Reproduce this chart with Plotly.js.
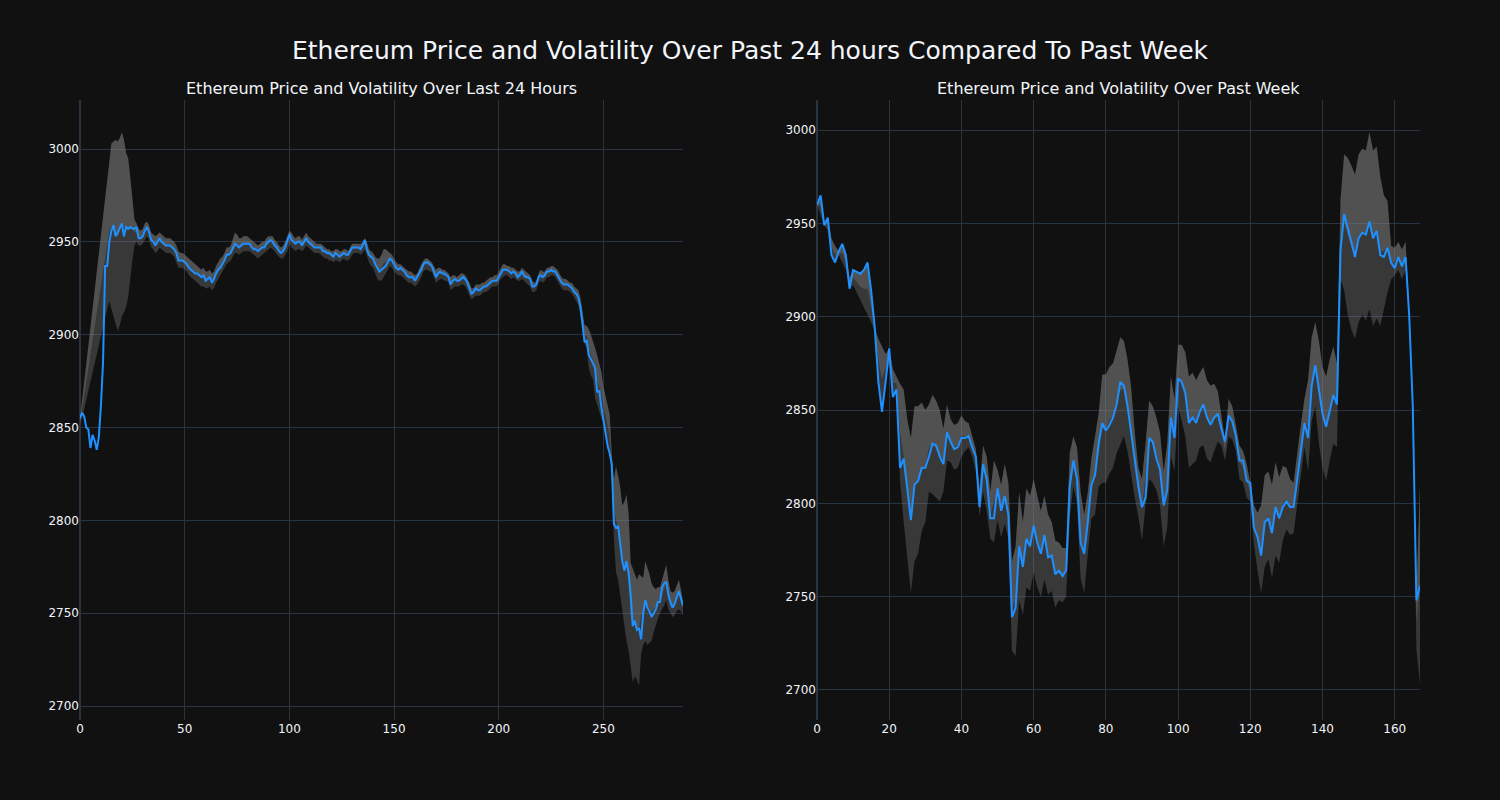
<!DOCTYPE html>
<html>
<head>
<meta charset="utf-8">
<script src="https://cdn.plot.ly/plotly-3.0.1.min.js"></script>
<style>html,body{margin:0;padding:0;background:#111111;}#chart{width:1500px;height:800px;}</style>
</head>
<body>
<div id="chart"></div>
<script>
// ---------- Last 24 hours (5-minute steps) ----------
const dayPrice = [
2855,2858,2856,2850,2849,2839,2846,2843,2838,2845,
2862,2885,2937,2937,2950,2956,2959,2953,2955,2958,
2960,2953,2958,2957,2958,2957,2957,2958,2952,2952,
2953,2956,2958,2955,2951,2950,2948,2950,2952,2950,
2949,2948,2948,2948,2947,2946,2944,2940,2940,2940,
2939,2938,2936,2935,2934,2933,2933,2932,2931,2932,
2929,2930,2931,2928,2930,2933,2935,2936,2938,2940,
2943,2943,2944,2947,2949,2948,2947,2948,2949,2949,
2949,2949,2947,2946,2946,2945,2946,2947,2947,2949,
2950,2951,2950,2948,2947,2945,2944,2945,2947,2950,
2954,2951,2950,2949,2950,2950,2948,2950,2952,2950,
2949,2948,2947,2947,2947,2947,2945,2945,2944,2944,
2943,2942,2944,2943,2942,2943,2944,2943,2943,2945,
2947,2947,2947,2947,2946,2948,2951,2946,2943,2942,
2941,2938,2936,2934,2935,2936,2937,2939,2941,2940,
2938,2936,2935,2936,2935,2934,2932,2931,2931,2931,
2929,2931,2933,2935,2938,2939,2939,2938,2937,2934,
2931,2933,2934,2933,2933,2932,2931,2927,2929,2930,
2929,2929,2930,2931,2930,2928,2925,2922,2923,2925,
2924,2924,2925,2926,2926,2927,2928,2929,2929,2929,
2931,2933,2935,2935,2935,2934,2933,2934,2933,2931,
2932,2934,2932,2931,2931,2930,2926,2926,2927,2931,
2932,2931,2932,2934,2934,2935,2934,2934,2932,2930,
2928,2927,2927,2927,2926,2925,2923,2922,2920,2915,
2906,2896,2897,2889,2887,2884,2882,2869,2870,2861,
2854,2845,2840,2836,2830,2798,2796,2797,2786,2778,
2773,2778,2772,2760,2743,2746,2741,2742,2736,2750,
2757,2753,2751,2748,2750,2752,2756,2756,2764,2766,
2767,2760,2756,2753,2755,2758,2762,2758,2754
];
const dayUpper = [
2855,2864,2874,2884,2894,2904,2914,2924,2934,2944,
2954,2964,2974,2984,2994,3003,3004,3005,3004,3006,
3009,3005,2998,2995,2985,2975,2962,2960,2957,2956,
2957,2960,2961,2959,2955,2954,2953,2954,2955,2954,
2953,2952,2952,2952,2951,2950,2948,2945,2944,2944,
2943,2942,2941,2940,2939,2938,2937,2936,2935,2936,
2934,2934,2935,2933,2934,2937,2939,2941,2942,2944,
2947,2947,2948,2952,2955,2954,2952,2952,2953,2953,
2953,2952,2951,2950,2949,2948,2949,2950,2950,2952,
2953,2953,2953,2951,2950,2948,2947,2948,2950,2953,
2956,2955,2953,2952,2953,2953,2951,2953,2955,2953,
2952,2951,2950,2949,2949,2949,2948,2947,2946,2946,
2945,2945,2946,2946,2945,2945,2946,2946,2945,2947,
2949,2949,2949,2949,2949,2950,2952,2950,2946,2945,
2944,2942,2941,2941,2943,2946,2946,2945,2944,2943,
2941,2939,2938,2938,2937,2936,2935,2934,2934,2933,
2932,2933,2936,2938,2940,2941,2941,2940,2939,2937,
2935,2936,2936,2935,2935,2934,2933,2931,2932,2932,
2931,2932,2933,2933,2932,2930,2928,2925,2925,2927,
2927,2927,2928,2928,2929,2930,2931,2931,2932,2932,
2934,2936,2938,2938,2937,2937,2936,2936,2935,2934,
2934,2936,2935,2934,2933,2932,2929,2928,2929,2933,
2935,2934,2934,2936,2936,2937,2937,2936,2935,2933,
2931,2930,2930,2929,2928,2928,2926,2925,2924,2920,
2912,2905,2905,2903,2900,2897,2893,2889,2885,2880,
2872,2866,2862,2857,2835,2822,2829,2824,2818,2808,
2810,2814,2804,2777,2774,2772,2768,2771,2770,2769,
2778,2775,2771,2766,2764,2763,2764,2764,2768,2773,
2776,2768,2762,2761,2762,2765,2768,2763,2756
];
const dayLower = [
2852,2855,2860,2865,2870,2875,2880,2885,2890,2895,
2900,2905,2910,2914,2918,2914,2911,2906,2902,2905,
2910,2912,2915,2920,2932,2940,2948,2950,2948,2948,
2949,2951,2953,2951,2947,2946,2944,2945,2947,2946,
2945,2944,2944,2944,2943,2942,2939,2936,2936,2936,
2935,2934,2932,2931,2930,2929,2928,2927,2926,2926,
2925,2925,2926,2924,2925,2928,2930,2932,2934,2936,
2938,2939,2940,2942,2944,2944,2943,2944,2945,2945,
2945,2945,2944,2943,2942,2941,2942,2943,2944,2945,
2946,2947,2946,2945,2943,2942,2941,2941,2943,2945,
2949,2947,2946,2945,2946,2946,2945,2946,2948,2947,
2946,2945,2944,2944,2944,2943,2942,2941,2941,2940,
2940,2939,2940,2940,2939,2940,2941,2940,2940,2941,
2943,2944,2944,2944,2943,2944,2946,2942,2939,2937,
2936,2933,2930,2929,2929,2931,2933,2935,2937,2936,
2934,2933,2932,2932,2931,2930,2929,2928,2928,2927,
2926,2927,2929,2931,2934,2935,2935,2934,2934,2931,
2928,2929,2930,2930,2929,2929,2928,2924,2925,2926,
2926,2926,2927,2927,2926,2924,2921,2919,2920,2921,
2921,2921,2922,2923,2923,2924,2925,2926,2926,2926,
2928,2930,2931,2932,2932,2931,2930,2931,2930,2929,
2929,2930,2929,2928,2927,2926,2923,2923,2924,2928,
2929,2928,2929,2931,2931,2932,2932,2931,2929,2927,
2925,2924,2924,2924,2923,2922,2920,2918,2916,2910,
2902,2895,2893,2882,2878,2876,2866,2862,2858,2855,
2852,2845,2840,2835,2820,2790,2772,2768,2760,2750,
2742,2735,2730,2720,2713,2716,2714,2711,2728,2733,
2735,2733,2734,2735,2740,2744,2747,2750,2752,2754,
2757,2752,2750,2748,2749,2751,2752,2751,2749
];

// ---------- Past week (hourly steps) ----------
const weekPrice = [
2960,2965,2949,2953,2933,2929,2935,2939,2933,2915,
2925,2924,2923,2925,2929,2914,2894,2865,2849,2865,
2883,2857,2861,2819,2824,2808,2791,2810,2812,2819,
2819,2825,2832,2831,2825,2821,2838,2833,2829,2830,
2835,2835,2836,2830,2825,2798,2821,2813,2792,2792,
2808,2796,2804,2794,2739,2744,2777,2766,2781,2777,
2788,2779,2773,2783,2771,2772,2762,2764,2761,2764,
2809,2823,2813,2779,2773,2790,2810,2815,2832,2843,
2839,2842,2846,2853,2865,2863,2852,2838,2822,2809,
2798,2803,2835,2833,2824,2818,2799,2807,2846,2835,
2867,2865,2859,2843,2846,2843,2849,2853,2846,2842,
2846,2848,2840,2833,2847,2844,2836,2823,2823,2812,
2811,2787,2782,2772,2790,2792,2784,2798,2792,2798,
2801,2798,2798,2813,2828,2843,2835,2863,2874,2860,
2848,2841,2849,2858,2853,2936,2955,2948,2940,2932,
2942,2945,2944,2951,2942,2946,2933,2932,2937,2929,
2926,2932,2927,2932,2901,2852,2748,2756
];
const weekUpper = [
2960,2965,2950,2953,2942,2938,2935,2939,2933,2921,
2925,2924,2923,2925,2929,2914,2894,2888,2884,2880,
2883,2872,2868,2864,2861,2845,2835,2852,2852,2854,
2850,2853,2858,2855,2850,2840,2853,2845,2842,2843,
2847,2844,2843,2836,2829,2808,2831,2825,2806,2823,
2818,2810,2821,2811,2769,2777,2806,2790,2808,2804,
2813,2804,2796,2804,2794,2790,2780,2779,2776,2776,
2827,2836,2830,2806,2794,2806,2824,2836,2848,2869,
2869,2873,2875,2882,2889,2887,2877,2862,2838,2819,
2813,2832,2855,2852,2846,2838,2817,2832,2868,2856,
2885,2885,2881,2868,2870,2866,2870,2873,2866,2863,
2864,2860,2846,2834,2856,2852,2842,2831,2828,2821,
2811,2799,2795,2799,2815,2817,2810,2822,2814,2820,
2819,2813,2811,2828,2842,2856,2866,2889,2897,2887,
2873,2868,2877,2884,2875,2963,2987,2985,2981,2976,
2987,2990,2989,2999,2989,2991,2975,2965,2962,2938,
2937,2940,2936,2940,2905,2856,2752,2810
];
const weekLower = [
2960,2954,2949,2946,2933,2929,2933,2929,2925,2915,
2917,2913,2909,2905,2901,2897,2892,2865,2849,2865,
2876,2857,2861,2812,2790,2769,2752,2769,2773,2785,
2790,2806,2805,2803,2801,2806,2823,2822,2818,2819,
2825,2828,2830,2825,2817,2793,2806,2796,2781,2779,
2791,2782,2789,2781,2721,2718,2748,2740,2755,2753,
2763,2755,2750,2759,2751,2753,2744,2748,2747,2750,
2792,2809,2800,2760,2752,2773,2792,2794,2809,2811,
2811,2816,2819,2827,2832,2836,2828,2815,2803,2793,
2780,2799,2813,2811,2807,2799,2777,2787,2825,2817,
2852,2844,2836,2819,2821,2823,2830,2831,2824,2822,
2828,2833,2831,2823,2836,2834,2828,2813,2811,2803,
2801,2778,2764,2752,2766,2770,2760,2772,2768,2780,
2786,2783,2784,2799,2816,2830,2817,2844,2852,2832,
2819,2812,2823,2832,2830,2920,2914,2901,2893,2888,
2897,2901,2898,2904,2895,2899,2895,2905,2913,2920,
2922,2925,2920,2925,2898,2848,2722,2703
];

const mainTitle = 'Ethereum Price and Volatility Over Past 24 hours Compared To Past Week';
const leftTitle = 'Ethereum Price and Volatility Over Last 24 Hours';
const rightTitle = 'Ethereum Price and Volatility Over Past Week';

[[dayPrice, dayUpper, dayLower, 289], [weekPrice, weekUpper, weekLower, 168]].forEach(g => {
  if (g[0].length !== g[3] || g[1].length !== g[3] || g[2].length !== g[3]) {
    throw new Error('length mismatch: ' + g[0].length + ' ' + g[1].length + ' ' + g[2].length + ' expected ' + g[3]);
  }
});

const FILL = 'rgba(128,128,128,0.35)';
function group(price, upper, lower, xa, ya) {
  const x = price.map((_, i) => i);
  const mean = upper.map((u, i) => (u + lower[i]) / 2);
  const base = {type: 'scatter', mode: 'lines', xaxis: xa, yaxis: ya, hoverinfo: 'skip', showlegend: false};
  return [
    Object.assign({}, base, {x: x, y: lower, line: {width: 0, color: 'rgba(0,0,0,0)'}}),
    Object.assign({}, base, {x: x, y: upper, line: {width: 0, color: 'rgba(0,0,0,0)'}, fill: 'tonexty', fillcolor: FILL}),
    Object.assign({}, base, {x: x, y: mean, line: {width: 0, color: 'rgba(0,0,0,0)'}, fill: 'tonexty', fillcolor: FILL}),
    Object.assign({}, base, {x: x, y: price, line: {width: 2, color: '#1E90FF'}})
  ];
}

const data = group(dayPrice, dayUpper, dayLower, 'x', 'y')
  .concat(group(weekPrice, weekUpper, weekLower, 'x2', 'y2'));

const axisBase = {
  gridcolor: '#283442', zerolinecolor: '#283442', zerolinewidth: 2,
  showline: false, ticks: '', tickfont: {size: 12, color: '#f2f5fa'}
};

const layout = {
  width: 1500, height: 800,
  paper_bgcolor: '#111111', plot_bgcolor: '#111111',
  font: {family: 'DejaVu Sans', color: '#f2f5fa', size: 12},
  title: {text: mainTitle, x: 0.5, xanchor: 'center', xref: 'paper',
          y: 0.9375, yref: 'container', yanchor: 'middle',
          font: {size: 25, color: '#f2f5fa'}},
  margin: {l: 80, r: 80, t: 100, b: 80},
  showlegend: false,
  xaxis: Object.assign({}, axisBase, {domain: [0, 0.45], range: [0, 288], anchor: 'y'}),
  yaxis: Object.assign({}, axisBase, {range: [2692.5, 3026.4], anchor: 'x', tick0: 2700, dtick: 50}),
  xaxis2: Object.assign({}, axisBase, {domain: [0.55, 1], range: [0, 167], anchor: 'y2'}),
  yaxis2: Object.assign({}, axisBase, {range: [2683.9, 3016.1], anchor: 'x2', tick0: 2700, dtick: 50}),
  annotations: [
    {text: leftTitle, x: 0.225, xref: 'paper', y: 1, yref: 'paper', xanchor: 'center', yanchor: 'bottom',
     showarrow: false, font: {size: 16, color: '#f2f5fa'}},
    {text: rightTitle, x: 0.775, xref: 'paper', y: 1, yref: 'paper', xanchor: 'center', yanchor: 'bottom',
     showarrow: false, font: {size: 16, color: '#f2f5fa'}}
  ]
};

Plotly.newPlot('chart', data, layout, {displayModeBar: false, staticPlot: true});
</script>
</body>
</html>
